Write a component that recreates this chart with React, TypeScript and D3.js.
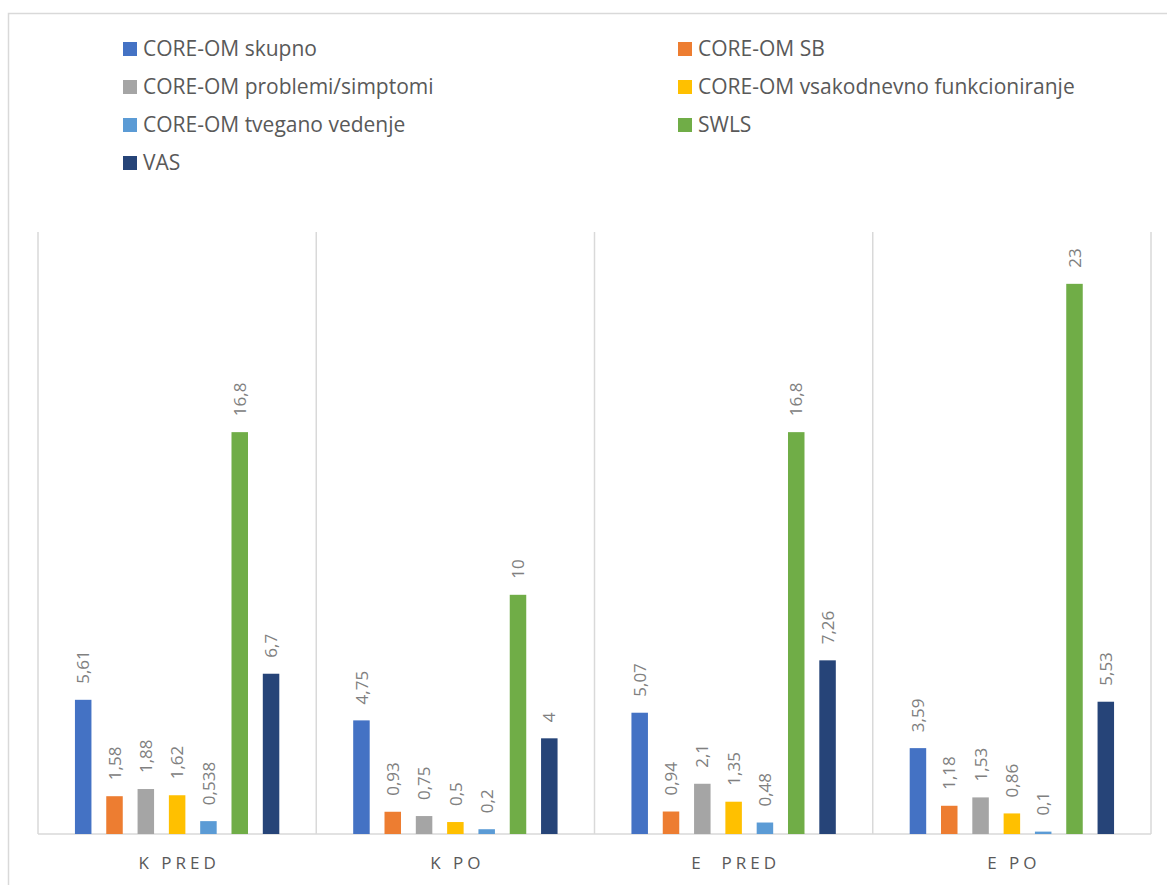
import React from "react";
import * as d3 from "d3";

const categories = ["K PRED", "K PO", "E  PRED", "E PO"];
const series = [
  "CORE-OM skupno",
  "CORE-OM SB",
  "CORE-OM problemi/simptomi",
  "CORE-OM vsakodnevno funkcioniranje",
  "CORE-OM tvegano vedenje",
  "SWLS",
  "VAS",
];
const colors = ["#4472C4", "#ED7D31", "#A5A5A5", "#FFC000", "#5B9BD5", "#70AD47", "#264478"];
// values[seriesIndex][categoryIndex]
const skupno = [5.61, 4.75, 5.07, 3.59];
const sb = [1.58, 0.93, 0.94, 1.18];
const problemi = [1.88, 0.75, 2.1, 1.53];
const funkcioniranje = [1.62, 0.5, 1.35, 0.86];
const tvegano = [0.538, 0.2, 0.48, 0.1];
const swls = [16.8, 10, 16.8, 23];
const vas = [6.7, 4, 7.26, 5.53];
const valueLabels = [
  ["5,61", "4,75", "5,07", "3,59"],
  ["1,58", "0,93", "0,94", "1,18"],
  ["1,88", "0,75", "2,1", "1,53"],
  ["1,62", "0,5", "1,35", "0,86"],
  ["0,538", "0,2", "0,48", "0,1"],
  ["16,8", "10", "16,8", "23"],
  ["6,7", "4", "7,26", "5,53"],
];
const values = [skupno, sb, problemi, funkcioniranje, tvegano, swls, vas];
const yMax = 25;

export default function App() {
  const W = 1167;
  const H = 885;
  const plotLeft = 38;
  const plotRight = 1151;
  const plotBottom = 834;
  const plotTop = 232;

  const x0 = d3.scaleBand<string>().domain(categories).range([plotLeft, plotRight]).padding(0);
  const x1 = d3
    .scaleBand<number>()
    .domain(d3.range(series.length))
    .range([0, x0.bandwidth()])
    .paddingInner(0.473)
    .paddingOuter(1.18);
  const y = d3.scaleLinear().domain([0, yMax]).range([plotBottom, 236]);

  const font = "'Open Sans', 'Noto Sans', sans-serif";
  const grid = "#D9D9D9";
  const boundaries = [...categories.map((c) => x0(c)!), plotRight];

  const legendRows = [
    [0, 1],
    [2, 3],
    [4, 5],
    [6],
  ];
  const legendColX = [123, 678];
  const legendRowY = [49, 87, 125, 163];

  return (
    <svg
      width={W}
      height={H}
      style={{ position: "absolute", left: 0, top: 0, display: "block", background: "#fff" }}
    >
      {/* chart border */}
      <rect x={8.5} y={13.5} width={1170} height={900} fill="#fff" stroke={grid} strokeWidth={1.5} />

      {/* vertical category separators */}
      {boundaries.map((bx, i) => (
        <line key={i} x1={bx} x2={bx} y1={plotTop} y2={plotBottom} stroke={grid} strokeWidth={1.5} />
      ))}
      {/* axis line */}
      <line x1={plotLeft} x2={plotRight} y1={plotBottom} y2={plotBottom} stroke={grid} strokeWidth={1.5} />

      {/* bars */}
      {categories.map((c, ci) => (
        <g key={c} transform={`translate(${x0(c)},0)`}>
          {series.map((s, si) => {
            const v = values[si][ci];
            const bx = x1(si)!;
            const top = y(v);
            const cx = bx + x1.bandwidth() / 2;
            return (
              <g key={s}>
                <rect x={bx} y={top} width={x1.bandwidth()} height={plotBottom - top} fill={colors[si]} />
                <text
                  transform={`translate(${cx},${top - 16}) rotate(-90)`}
                  dy="0.36em"
                  fontFamily={font}
                  fontSize={17}
                  fill="#808080"
                  textAnchor="start"
                >
                  {valueLabels[si][ci]}
                </text>
              </g>
            );
          })}
        </g>
      ))}

      {/* category labels */}
      {categories.map((c) => (
        <text
          key={c}
          x={x0(c)! + x0.bandwidth() / 2 + 2}
          y={869}
          fontFamily={font}
          fontSize={17}
          letterSpacing={4}
          fill="#595959"
          textAnchor="middle"
          style={{ whiteSpace: "pre" }}
        >
          {c}
        </text>
      ))}

      {/* legend */}
      {legendRows.map((row, ri) =>
        row.map((si, ci) => (
          <g key={si} transform={`translate(${legendColX[ci]},${legendRowY[ri]})`}>
            <rect x={0} y={-7} width={14} height={14} fill={colors[si]} />
            <text x={20} y={0} dy="0.35em" fontFamily={font} fontSize={21} fill="#595959">
              {series[si]}
            </text>
          </g>
        ))
      )}
    </svg>
  );
}
